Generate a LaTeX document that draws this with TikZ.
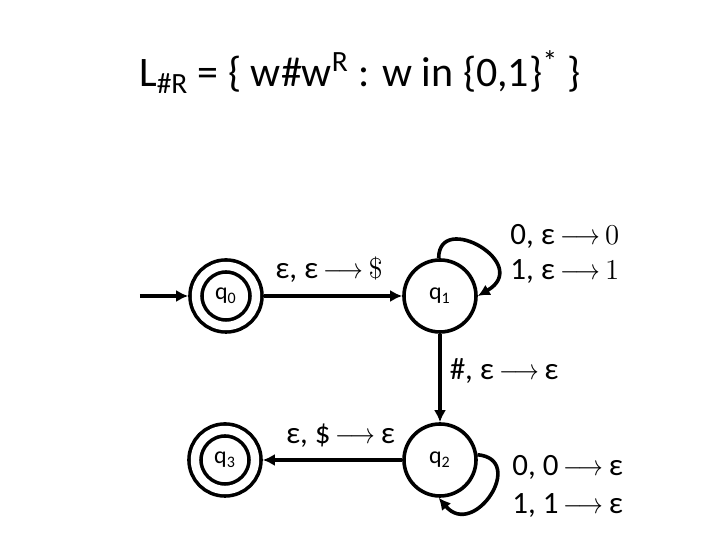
\documentclass[tikz,border=0pt]{standalone}
\usepackage{fontspec}
\setmainfont{Carlito}
\usepackage{graphicx}
\usetikzlibrary{arrows.meta,positioning}
\newcommand{\yields}{\,\scalebox{0.86}[1]{$\longrightarrow$}\,}
\tikzset{
  trans/.style={line width=1.8pt,-{Latex[length=6pt,width=6pt]}},
  stat/.style={circle,draw,line width=1.8pt,minimum size=36pt,inner sep=0pt,
    font=\fontsize{12}{14}\selectfont},
  acc/.style={stat,double,double distance=4.2pt,minimum size=30pt,outer sep=3.9pt},
  lbl/.style={font=\fontsize{15.5}{17.5}\selectfont,align=left,inner sep=2pt}
}
\begin{document}
\begin{tikzpicture}[x=0.5pt,y=0.5pt]
  \useasboundingbox (0,0) rectangle (720,540);
  % title
  \node[anchor=base,font=\fontsize{21}{25}\selectfont] (title) at (360,453)
    {L\textsubscript{\#R} = \{ w\#w\textsuperscript{R} : w in \{0,1\}\textsuperscript{*} \}};
  % states
  \node[acc] (q0) at (226,244) {q\textsubscript{0}};
  \node[stat] (q1) at (440,244) {q\textsubscript{1}};
  \node[stat] (q2) at (440,80) {q\textsubscript{2}};
  \node[acc] (q3) at (225,80) {q\textsubscript{3}};
  \coordinate (start) at (140,244);
  % transitions
  \draw[trans] (start) -- (q0);
  \draw[trans] (q0) -- (q1) node[lbl,midway,above=4pt,xshift=-2pt] {ε, ε\yields$\$$};
  \draw[trans] (q1) -- (q2) node[lbl,midway,right=2pt,yshift=3.5pt] {\#, ε\yields ε};
  \draw[trans] (q2) -- (q3) node[lbl,midway,above=3.5pt,xshift=4pt] {ε, \$\yields ε};
  \draw[trans] (q1.92) to[out=90,in=30,out distance=24pt,in distance=32pt] (q1.0);
  \draw[trans] (q2.8) to[out=-5,in=-50,out distance=25pt,in distance=27.5pt] (q2.-92);
  % loop labels
  \node[lbl,anchor=west] (push) at (506,286) {0, ε\yields$0$\\1, ε\yields$1$};
  \node[lbl,anchor=west,font=\fontsize{15.5}{19}\selectfont] (pop) at (508,54) {0, 0\yields ε\\1, 1\yields ε};
\end{tikzpicture}
\end{document}
